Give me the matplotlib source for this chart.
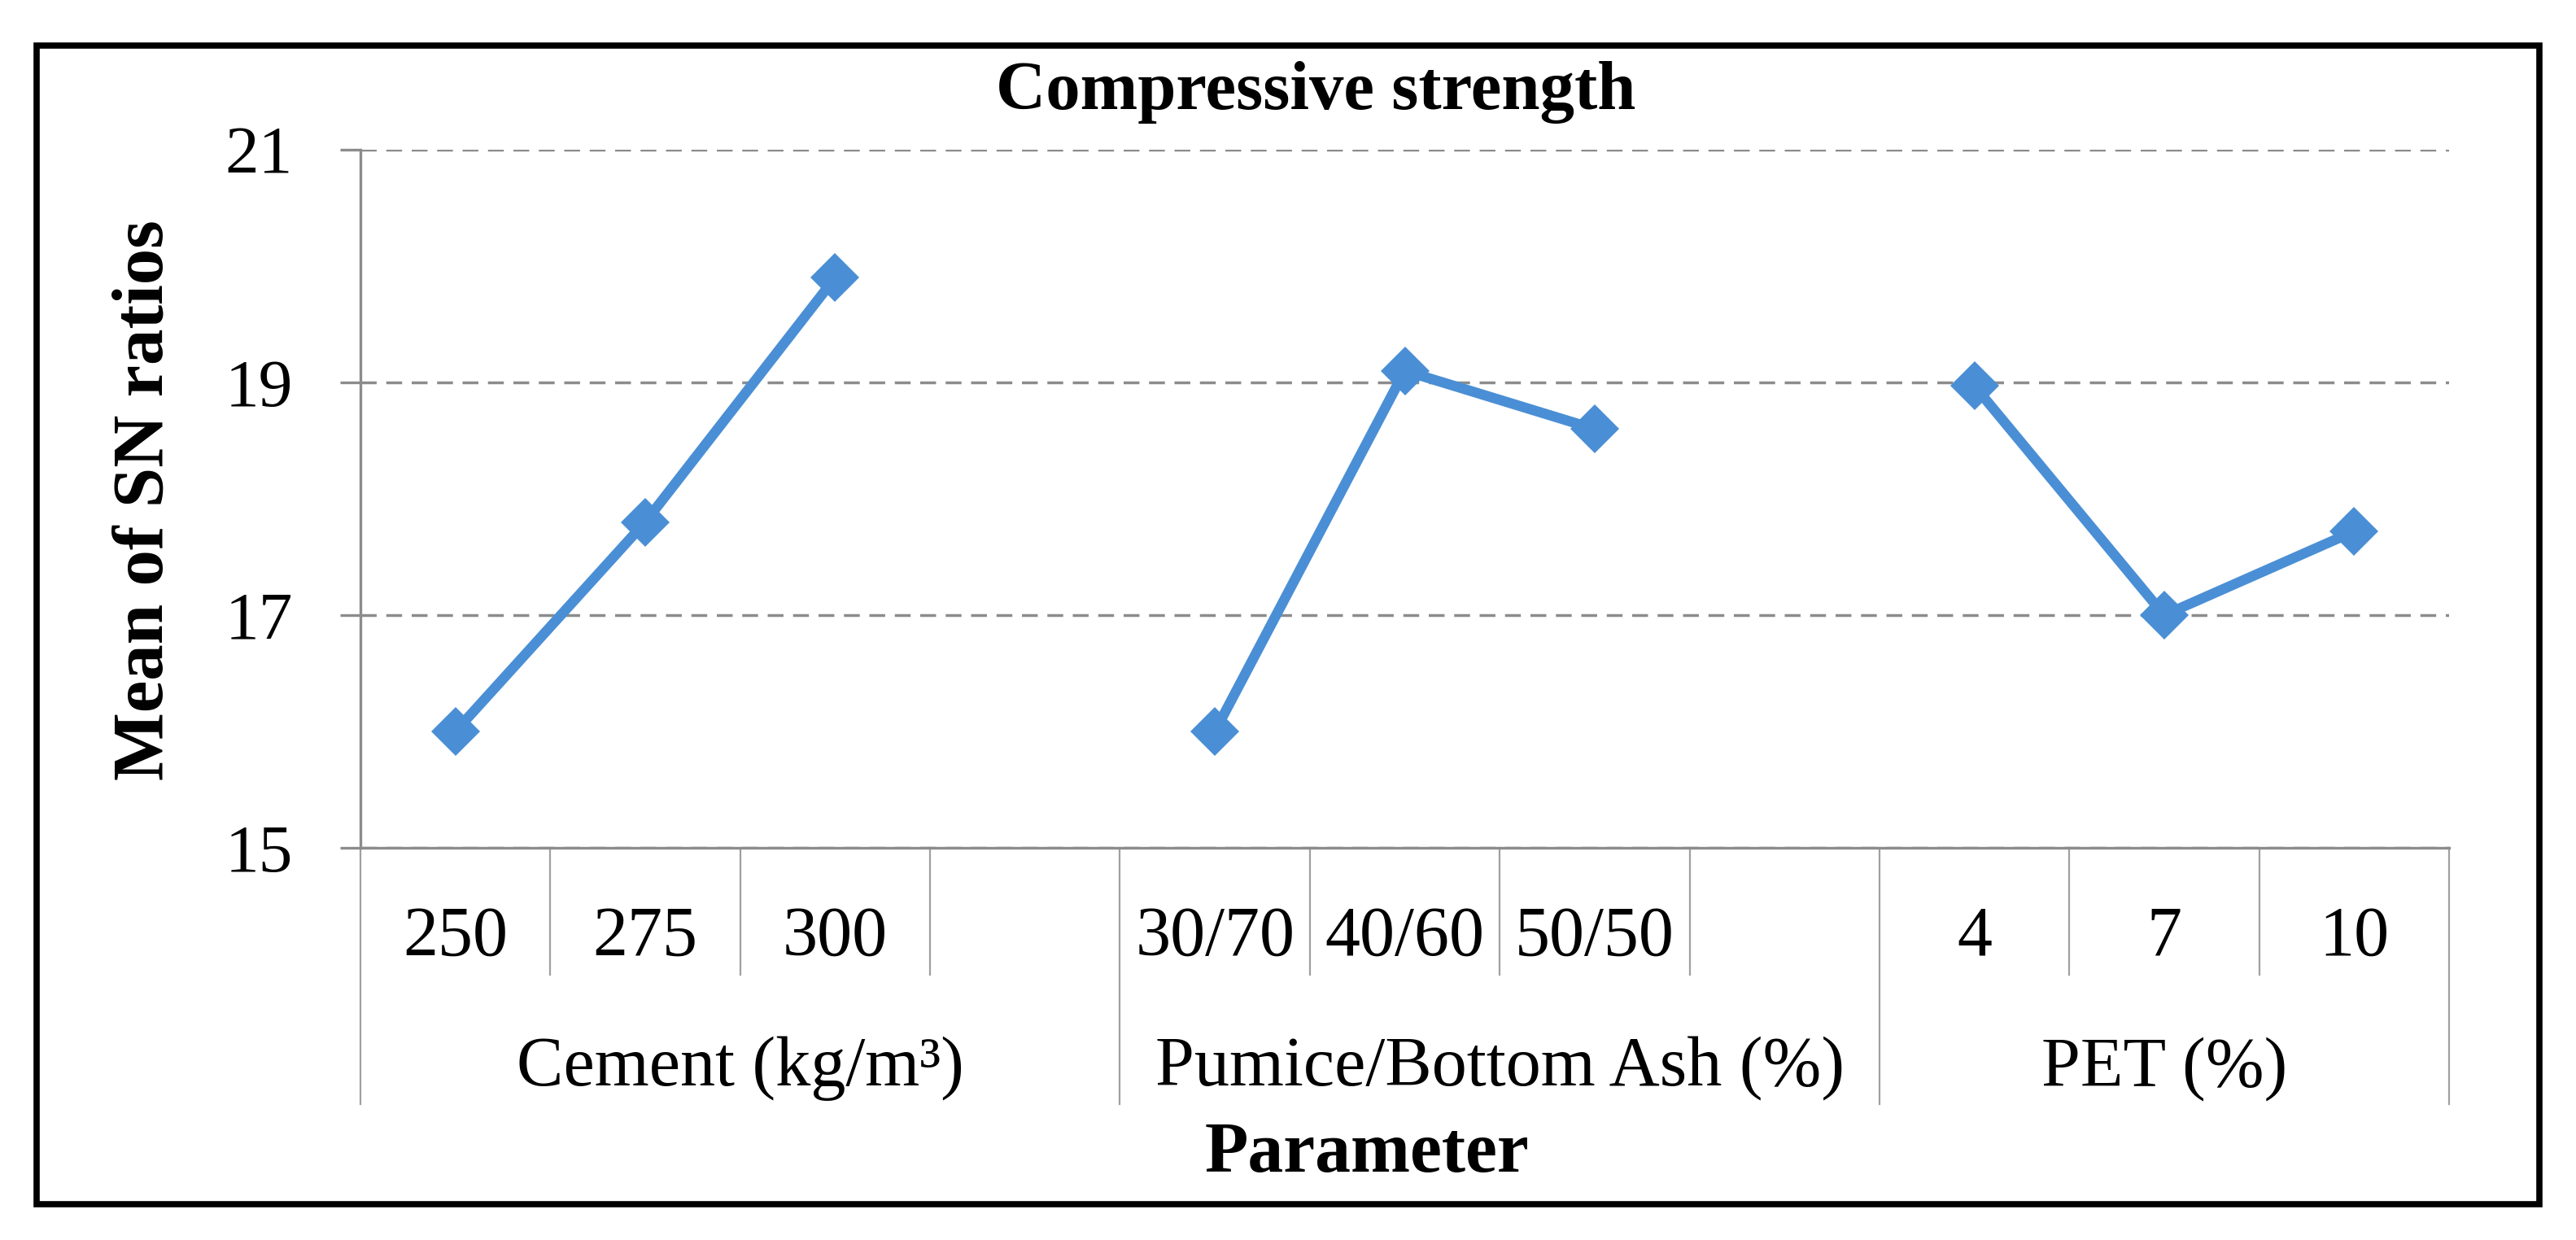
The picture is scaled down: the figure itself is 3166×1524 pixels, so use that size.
import matplotlib
matplotlib.use('Agg')
import matplotlib.pyplot as plt
import numpy as np
import matplotlib.transforms as mtransforms
from matplotlib.patches import Rectangle

# ---------------- data ----------------
categories = ['250', '275', '300', '', '30/70', '40/60', '50/50', '', '4', '7', '10']
groups = ['Cement (kg/m³)', 'Pumice/Bottom Ash (%)', 'PET (%)']
group_sizes = [4, 4, 3]
cement = [16.0, 17.8, 19.9]
pumice = [16.0, 19.1, 18.6]
pet = [18.97, 17.0, 17.72]
yticks = [15, 17, 19, 21]

title = 'Compressive strength'
ylabel = 'Mean of SN ratios'
xlabel = 'Parameter'

# ---------------- figure ----------------
plt.rcParams['font.family'] = ['Liberation Serif', 'DejaVu Serif']
W, H = 3166, 1524
fig = plt.figure(figsize=(W / 100, H / 100), dpi=100)
fig.patch.set_facecolor('white')

def fy(y):
    return 1 - y / H

ax_l, ax_r, ax_t, ax_b = 443, 3010, 184, 1042
ax = fig.add_axes([ax_l / W, fy(ax_b), (ax_r - ax_l) / W, (ax_b - ax_t) / H])

x = np.arange(len(categories))
values = np.array(cement + [np.nan] + pumice + [np.nan] + pet, dtype=float)

blue = '#4A8FD5'
grey = '#8C8C8C'
ax.plot(x, values, color=blue, lw=9, marker='D', markersize=31,
        markerfacecolor=blue, markeredgewidth=0, zorder=5, solid_capstyle='butt')

ax.set_xlim(-0.5, len(categories) - 0.5)
ax.set_ylim(min(yticks), max(yticks))
ax.set_yticks(yticks)
ax.set_xticks([])

for s in ['top', 'right']:
    ax.spines[s].set_visible(False)
for s in ['left', 'bottom']:
    ax.spines[s].set_color(grey)
    ax.spines[s].set_linewidth(2.4)

ax.tick_params(axis='y', direction='out', length=18, width=2.4, color=grey,
               pad=42, labelsize=60)
ax.yaxis.grid(True, color=grey, lw=2.5, linestyle=(0, (5.6, 3.4)))
ax.set_axisbelow(True)

# ---------------- multi-level category axis ----------------
tr = mtransforms.blended_transform_factory(ax.transData, fig.transFigure)
sep_col = '#A0A0A0'
short_end, long_end = 1198, 1357

bounds = np.cumsum([0] + group_sizes) - 0.5
group_bounds = set(np.round(bounds, 2))
for b in np.arange(-0.5, len(categories), 1.0):
    end = long_end if round(b, 2) in group_bounds else short_end
    ax.plot([b, b], [fy(ax_b), fy(end)], transform=tr, color=sep_col,
            lw=1.6, clip_on=False, zorder=1)

for xi, lab in zip(x, categories):
    fig.text(xi, fy(1174), lab, transform=tr, ha='center', va='baseline',
             fontsize=62)

for i, g in enumerate(groups):
    cx = (bounds[i] + bounds[i + 1]) / 2
    fig.text(cx, fy(1334), g, transform=tr, ha='center', va='baseline',
             fontsize=62)

# ---------------- titles ----------------
fig.text(1617 / W, fy(134), title, ha='center', va='baseline',
         fontsize=61, fontweight='bold')
fig.text(1680 / W, fy(1440), xlabel, ha='center', va='baseline',
         fontsize=63, fontweight='bold')
fig.text(178 / W, fy(615), ylabel, ha='center', va='center', rotation=90,
         fontsize=64, fontweight='bold')

# ---------------- outer frame ----------------
bl, bt, br, bb = 45, 56, 3121, 1480
fig.patches.append(Rectangle((bl / W, fy(bb)), (br - bl) / W, (bb - bt) / H,
                             transform=fig.transFigure, fill=False,
                             edgecolor='black', lw=5.5, zorder=10))

fig.savefig('out.png', dpi=100, facecolor='white')
